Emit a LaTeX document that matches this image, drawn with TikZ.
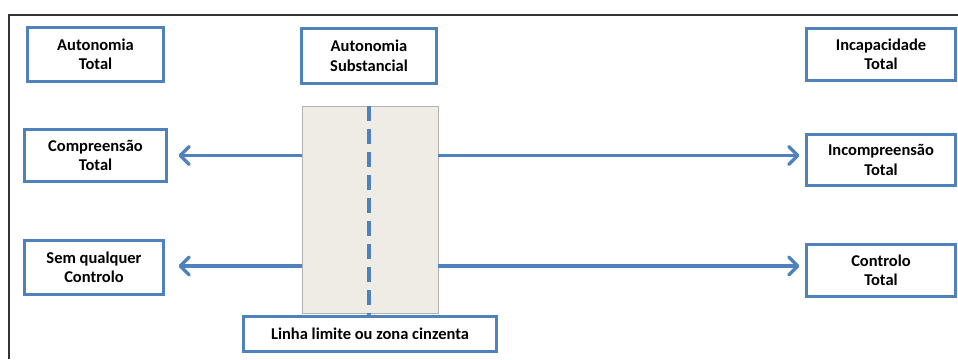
\documentclass[tikz,border=0pt]{standalone}
\usepackage{fontspec}
\setmainfont{Carlito}
\usetikzlibrary{arrows.meta}
\definecolor{obl}{HTML}{4F81BD}
\definecolor{zgray}{HTML}{EEECE4}
\tikzset{
  box/.style={draw=obl, line width=3pt, fill=white, inner sep=0pt, outer sep=0pt,
    align=center, font=\fontsize{16.5}{19.5}\selectfont\bfseries},
  arr/.style={draw=obl, line width=3.5pt, -{Straight Barb[length=9pt,width=18pt,line cap=round,line join=round]}},
  zone/.style={fill=zgray, draw=black!30, line width=0.6pt, inner sep=0pt, outer sep=0pt},
  frame/.style={draw=black!80, line width=2pt}
}
\begin{document}
\begin{tikzpicture}[x=1pt,y=-1pt]
\useasboundingbox (0,0) rectangle (958,359);
\draw[frame] (8.5,359) -- (8.5,15) -- (958,15);
\node[zone, minimum width=136pt, minimum height=207pt] (zn) at (370,209.5) {};
\node[box, minimum width=136pt, minimum height=54pt] (at) at (95.5,54.5) {Autonomia\\Total};
\node[box, minimum width=135pt, minimum height=55pt] (as) at (369,56) {Autonomia\\Substancial};
\node[box, minimum width=149pt, minimum height=52pt] (it) at (881,54.5) {Incapacidade\\Total};
\node[box, minimum width=142pt, minimum height=52pt] (ct) at (95.5,155.5) {Compreensão\\Total};
\node[box, minimum width=149pt, minimum height=51pt] (ic) at (881,160) {Incompreensão\\Total};
\node[box, minimum width=139pt, minimum height=54pt] (sq) at (94,267.5) {Sem qualquer\\Controlo};
\node[box, minimum width=149pt, minimum height=52pt] (cot) at (881,270.5) {Controlo\\Total};
\node[box, minimum width=253pt, minimum height=35pt] (ll) at (370,334) {Linha limite ou zona cinzenta};
\coordinate (dtop) at (369,106);
\draw[draw=obl, line width=3.5pt, dash pattern=on 15pt off 8pt] (dtop) -- (dtop |- ll.north);
\draw[arr] (zn.west |- ct.east) -- ([xshift=12pt]ct.east);
\draw[arr] (zn.east |- ct.east) -- ([xshift=-7pt]ic.west |- ct.east);
\draw[arr] (zn.west |- 0,266) -- ([xshift=15pt]sq.east |- 0,266);
\draw[arr] (zn.east |- 0,266) -- ([xshift=-7pt]cot.west |- 0,266);
\end{tikzpicture}
\end{document}
